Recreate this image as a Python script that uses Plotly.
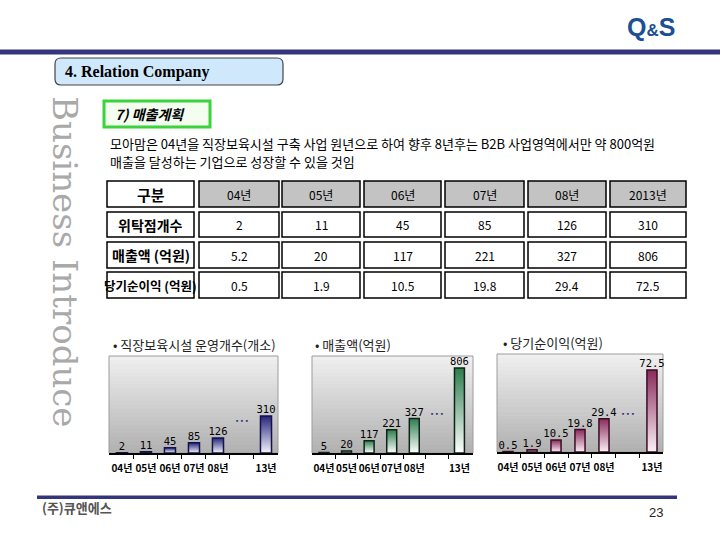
import plotly.graph_objects as go

W, H = 720, 540
KR = "Noto Sans CJK KR"

# ---------------- data ----------------
table_years = ["04년", "05년", "06년", "07년", "08년", "2013년"]
table_rows = ["위탁점개수", "매출액 (억원)", "당기순이익 (억원)"]
branches = [2, 11, 45, 85, 126, 310]
sales = [5.2, 20, 117, 221, 327, 806]
profit = [0.5, 1.9, 10.5, 19.8, 29.4, 72.5]
branch_text = ["2", "11", "45", "85", "126", "310"]
sales_text = ["5.2", "20", "117", "221", "327", "806"]
profit_text = ["0.5", "1.9", "10.5", "19.8", "29.4", "72.5"]
chart_cats = ["04년", "05년", "06년", "07년", "08년", "13년"]
chart_labels_branch = ["2", "11", "45", "85", "126", "310"]
chart_labels_sales = ["5", "20", "117", "221", "327", "806"]
chart_labels_profit = ["0.5", "1.9", "10.5", "19.8", "29.4", "72.5"]


def fx(x):
    return x / W


def fy(y):
    return 1 - y / H


fig = go.Figure()
shapes = []
ann = []


def rect(x0, y0, x1, y1, fill=None, line=None, lw=1, layer="below"):
    shapes.append(dict(type="rect", xref="paper", yref="paper",
                       x0=fx(x0), x1=fx(x1), y0=fy(y1), y1=fy(y0),
                       fillcolor=fill if fill else "rgba(0,0,0,0)",
                       line=dict(color=line if line else "rgba(0,0,0,0)", width=lw if line else 0),
                       layer=layer))


def text(x, y, s, size=12, color="black", family=KR, xanchor="center", angle=0, weight="normal"):
    ann.append(dict(x=fx(x), y=fy(y), xref="paper", yref="paper", text=s, showarrow=False,
                    xanchor=xanchor, yanchor="middle", textangle=angle,
                    font=dict(size=size, color=color, family=family, weight=weight)))


def lerp(c0, c1, t):
    return "rgb(%d,%d,%d)" % tuple(round(a + (b - a) * t) for a, b in zip(c0, c1))


# ---------------- header / footer ----------------
rect(0, 49.5, 720, 54.5, fill="#34357a")
text(677, 27, "Q<span style='font-size:17px'>&amp;</span>S", size=25, color="#1c4f94",
     family="Liberation Sans", xanchor="right", weight="bold")

# rounded box "4. Relation Company"
x0, y0, x1, y1, r = 55, 58, 283, 85, 6
path = ("M {a},{b} L {c},{b} Q {d},{b} {d},{e} L {d},{f} Q {d},{g} {c},{g} "
        "L {a},{g} Q {h},{g} {h},{f} L {h},{e} Q {h},{b} {a},{b} Z").format(
    a=fx(x0 + r), b=fy(y0), c=fx(x1 - r), d=fx(x1), e=fy(y0 + r), f=fy(y1 - r), g=fy(y1), h=fx(x0))
shapes.append(dict(type="path", path=path, xref="paper", yref="paper",
                   fillcolor="#cfe8fb", line=dict(color="#444444", width=1.2), layer="below"))
text(63, 72, "4. Relation Company", size=16, family="Liberation Serif", xanchor="left", weight="bold")

text(65, 261, "Business Introduce", size=34, color="#a9a9a9", family="DejaVu Serif", angle=90)

# green title box
rect(104, 101, 210, 127, fill="#f3fdf0", line="#3ad43a", lw=3)
text(113, 114, "<i>7) 매출계획</i>", size=14, xanchor="left", weight="bold")

text(108, 143, "모아맘은 04년을 직장보육시설 구축 사업 원년으로 하여 향후 8년후는 B2B 사업영역에서만 약 800억원",
     size=13, xanchor="left")
text(108, 161, "매출을 달성하는 기업으로 성장할 수 있을 것임", size=13, xanchor="left")

# footer
rect(37, 495.5, 677, 499, fill="#34357a")
text(40, 507, "(주)큐앤에스", size=13, color="#555555", xanchor="left", weight="bold")
text(656, 512, "23", size=13, color="#222222", family="Liberation Sans")

# ---------------- table ----------------
col0 = (107, 194)
cols = [(199, 279), (282, 360), (364, 441), (445, 524), (528, 606), (610, 686)]
rows = [(181, 207), (212, 237), (242, 268), (272, 298)]
rect(col0[0], rows[0][0], col0[1], rows[0][1], fill="white", line="black", lw=1.5)
text((col0[0] + col0[1]) / 2, (rows[0][0] + rows[0][1]) / 2, "구분", size=15, weight="bold")
for (a, b), yr in zip(cols, table_years):
    rect(a, rows[0][0], b, rows[0][1], fill="#c3c3c3", line="black", lw=1.5)
    text((a + b) / 2, (rows[0][0] + rows[0][1]) / 2, yr, size=12)
row_sizes = [14, 14, 12.5]
for (r0, r1), lab, vals, fs in zip(rows[1:], table_rows, [branch_text, sales_text, profit_text], row_sizes):
    rect(col0[0], r0, col0[1], r1, fill="white", line="black", lw=1.5)
    text((col0[0] + col0[1]) / 2, (r0 + r1) / 2, lab, size=fs, weight="bold")
    for (a, b), v in zip(cols, vals):
        rect(a, r0, b, r1, fill="white", line="black", lw=1.5)
        text((a + b) / 2, (r0 + r1) / 2, v, size=12)

# ---------------- charts ----------------
slots = [0, 1, 2, 3, 4, 6]
charts = [
    dict(vals=branches, labels=chart_labels_branch, title="• 직장보육시설 운영개수(개소)",
         dx=(109, 278), dy=(356, 453), xr=(-0.54, 6.5), ymax=813, hw=0.23,
         dark="#25257a", light="#f4f4fb", edge="#12124c", tx=111, dots=420),
    dict(vals=sales, labels=chart_labels_sales, title="• 매출액(억원)",
         dx=(312, 473), dy=(356, 453), xr=(-0.53, 6.6), ymax=920, hw=0.22,
         dark="#2c7d4c", light="#ffffff", edge="#0e2416", tx=313, dots=413),
    dict(vals=profit, labels=chart_labels_profit, title="• 당기순이익(억원)",
         dx=(497, 663), dy=(354, 452), xr=(-0.46, 6.46), ymax=86.6, hw=0.21,
         dark="#8a2a5b", light="#fcf0f6", edge="#3a0e24", tx=501, dots=413),
]

top_c = (240, 240, 240)
bot_c = (176, 176, 176)
layout_axes = {}
for k, c in enumerate(charts, start=1):
    xa = "x" if k == 1 else "x%d" % k
    ya = "y" if k == 1 else "y%d" % k
    (l, rr), (t, b) = c["dx"], c["dy"]
    n = 24
    for i in range(n):
        y0s = t + (b - t) * i / n
        y1s = t + (b - t) * (i + 1) / n + 0.6
        rect(l, y0s, rr, min(y1s, b), fill=lerp(top_c, bot_c, (i + 0.5) / n))
    rect(l, t, rr, b, line="#9c9c9c", lw=1)
    text(c["tx"], t - 12, c["title"], size=13, color="#222222", xanchor="left")

    for s, v in zip(slots, c["vals"]):
        fig.add_trace(go.Scatter(
            x=[s - c["hw"], s - c["hw"], s + c["hw"], s + c["hw"], s - c["hw"]],
            y=[0, v, v, 0, 0], mode="lines", fill="toself",
            fillgradient=dict(type="vertical", colorscale=[[0, c["light"]], [1, c["dark"]]]),
            line=dict(color=c["edge"], width=1.5), xaxis=xa, yaxis=ya,
            showlegend=False, hoverinfo="skip"))
    fig.add_trace(go.Scatter(x=slots, y=c["vals"], mode="text", text=c["labels"],
                             textposition="top center", cliponaxis=False,
                             textfont=dict(size=10.5, family="DejaVu Sans Mono", color="black"),
                             xaxis=xa, yaxis=ya, showlegend=False, hoverinfo="skip"))
    ann.append(dict(x=5, y=fy(c["dots"]), xref=xa, yref="paper", text="■   ■   ■",
                    showarrow=False, font=dict(size=3.5, color="#2b2b7a"), yanchor="middle"))

    key = "" if k == 1 else str(k)
    layout_axes["xaxis" + key] = dict(
        domain=[fx(l), fx(rr)], range=list(c["xr"]), anchor=ya,
        tickvals=slots, ticktext=chart_cats, ticks="", tickangle=0, showgrid=False, zeroline=False,
        showline=True, linecolor="black", linewidth=1.5, ticklabelstandoff=5,
        tickfont=dict(size=10, family=KR, color="black", weight="bold"),
        minor=dict(tickvals=[0.5, 1.5, 2.5, 3.5, 4.5, 5.5], ticks="outside", ticklen=4,
                   tickcolor="black", tickwidth=1, showgrid=False),
        fixedrange=True)
    layout_axes["yaxis" + key] = dict(
        domain=[fy(b), fy(t)], range=[0, c["ymax"]], anchor=xa, visible=False, fixedrange=True)

fig.update_layout(
    width=W, height=H, margin=dict(l=0, r=0, t=0, b=0),
    paper_bgcolor="white", plot_bgcolor="rgba(0,0,0,0)",
    shapes=shapes, annotations=ann, showlegend=False,
    **layout_axes)

fig.write_html("out.html", config={"displayModeBar": False},
               post_script="document.body.style.margin='0';document.body.style.padding='0';")
